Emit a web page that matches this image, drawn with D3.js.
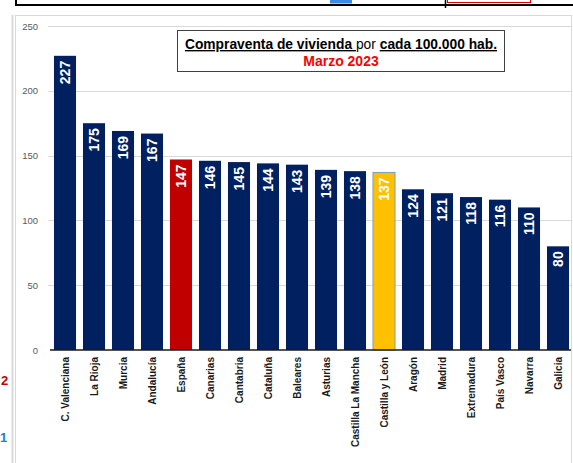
<!DOCTYPE html>
<html>
<head>
<meta charset="utf-8">
<script src="https://cdn.jsdelivr.net/npm/d3@7"></script>
<style>
  body { margin: 0; background: #fff; }
  svg { display: block; }
</style>
</head>
<body>
<div id="chart"></div>
<script>
var regions = ["C. Valenciana", "La Rioja", "Murcia", "Andalucía", "España", "Canarias",
  "Cantabria", "Cataluña", "Baleares", "Asturias", "Castilla La Mancha", "Castilla y León",
  "Aragón", "Madrid", "Extremadura", "País Vasco", "Navarra", "Galicia"];
var values = [227, 175, 169, 167, 147, 146, 145, 144, 143, 139, 138, 137, 124, 121, 118, 116, 110, 80];
var yTicks = [0, 50, 100, 150, 200, 250];

var width = 573, height = 463;
var font = "'Liberation Sans', Arial, sans-serif";

var svg = d3.select("#chart").append("svg")
    .attr("width", width)
    .attr("height", height);

// bits of the spreadsheet around the chart
svg.append("line").attr("x1", 12.5).attr("x2", 12.5).attr("y1", 15).attr("y2", height)
    .style("stroke", "#d9d9d9").style("stroke-width", 2);
svg.append("rect").attr("x", 15.5).attr("y", 15.5).attr("width", 556).attr("height", 460)
    .style("fill", "#fff").style("stroke", "#d9d9d9");
svg.append("line").attr("x1", 16).attr("x2", width).attr("y1", 5).attr("y2", 5)
    .style("stroke", "#000").style("stroke-width", 2);
svg.append("line").attr("x1", 16).attr("x2", 16).attr("y1", 0).attr("y2", 6)
    .style("stroke", "#000").style("stroke-width", 2);
svg.append("line").attr("x1", 445.5).attr("x2", 445.5).attr("y1", 0).attr("y2", 8)
    .style("stroke", "#000").style("stroke-width", 1.5);
svg.append("rect").attr("x", 447.5).attr("y", -2).attr("width", 83).attr("height", 4.5)
    .style("fill", "none").style("stroke", "#e00000");
svg.append("rect").attr("x", 330).attr("y", 0).attr("width", 22).attr("height", 3.5)
    .style("fill", "#3d8be0");
svg.append("text").attr("x", 1).attr("y", 385).text("2")
    .style("font-family", font).style("font-weight", "bold").style("font-size", "13px")
    .style("fill", "#c00000");
svg.append("text").attr("x", 0).attr("y", 442).text("1")
    .style("font-family", font).style("font-weight", "bold").style("font-size", "13px")
    .style("fill", "#1f7fcf");

var x = d3.scaleBand()
    .domain(regions)
    .range([50.5, 572.5])
    .paddingInner(0.24)
    .paddingOuter(0.12);

var y = d3.scaleLinear()
    .domain([0, 250])
    .range([350, 26]);

var graph = svg.append("g");

// gridlines + tick labels
graph.selectAll("line.grid")
    .data(yTicks.filter(function(d) { return d > 0; }))
    .enter().append("line")
    .attr("class", "grid")
    .attr("x1", 48).attr("x2", 571)
    .attr("y1", function(d) { return Math.round(y(d)) + 0.5; })
    .attr("y2", function(d) { return Math.round(y(d)) + 0.5; })
    .style("stroke", "#d9d9d9");

graph.selectAll("text.ytick")
    .data(yTicks)
    .enter().append("text")
    .attr("class", "ytick")
    .attr("x", 38)
    .attr("y", function(d) { return y(d) + 3.5; })
    .attr("text-anchor", "end")
    .style("font-family", font)
    .style("font-size", "9.5px")
    .style("fill", "#595959")
    .text(function(d) { return d; });

// bars
function barColor(d) {
  if (d === "España") return "#c00000";
  if (d === "Castilla y León") return "#ffc000";
  return "#002060";
}

graph.selectAll("rect.bar")
    .data(values)
    .enter().append("rect")
    .attr("class", "bar")
    .attr("x", function(d, i) { return x(regions[i]); })
    .attr("y", function(d) { return y(d); })
    .attr("width", x.bandwidth())
    .attr("height", function(d) { return y(0) - y(d); })
    .style("fill", function(d, i) { return barColor(regions[i]); })
    .style("stroke", function(d, i) { return regions[i] === "Castilla y León" ? "#7c9fb5" : "none"; })
    .style("stroke-width", 1);

// value labels inside bars
graph.selectAll("text.val")
    .data(values)
    .enter().append("text")
    .attr("class", "val")
    .attr("transform", function(d, i) {
      return "translate(" + (x(regions[i]) + x.bandwidth() / 2 + 5) + "," + (y(d) + 5) + ") rotate(-90)";
    })
    .attr("text-anchor", "end")
    .style("font-family", font)
    .style("font-weight", "bold")
    .style("font-size", "14px")
    .style("fill", "#fff")
    .text(function(d) { return d; });

// axis line
graph.append("line")
    .attr("x1", 50).attr("x2", 571)
    .attr("y1", y(0)).attr("y2", y(0))
    .style("stroke", "#1a1a1a").style("stroke-width", 1.5);

// category labels
graph.selectAll("text.cat")
    .data(regions)
    .enter().append("text")
    .attr("class", "cat")
    .attr("transform", function(d) {
      return "translate(" + (x(d) + x.bandwidth() / 2 + 3.5) + ",357) rotate(-90)";
    })
    .attr("text-anchor", "end")
    .style("font-family", font)
    .style("font-weight", "bold")
    .style("font-size", "10px")
    .style("fill", "#1a1a1a")
    .text(function(d) { return d; });

// title box
var title = svg.append("g");
title.append("rect")
    .attr("x", 177.5).attr("y", 30.5).attr("width", 327).attr("height", 41)
    .style("fill", "#fff").style("stroke", "#404040");

var t1 = title.append("text")
    .attr("x", 341).attr("y", 49)
    .attr("text-anchor", "middle")
    .style("font-family", font)
    .style("font-size", "13.8px")
    .style("fill", "#000");
t1.append("tspan").style("font-weight", "bold").style("text-decoration", "underline").text("Compraventa de vivienda ");
t1.append("tspan").text("por ");
t1.append("tspan").style("font-weight", "bold").style("text-decoration", "underline").text("cada 100.000 hab.");

title.append("text")
    .attr("x", 341).attr("y", 66)
    .attr("text-anchor", "middle")
    .style("font-family", font)
    .style("font-weight", "bold")
    .style("font-size", "14px")
    .style("fill", "#ff0000")
    .text("Marzo 2023");
</script>
</body>
</html>
